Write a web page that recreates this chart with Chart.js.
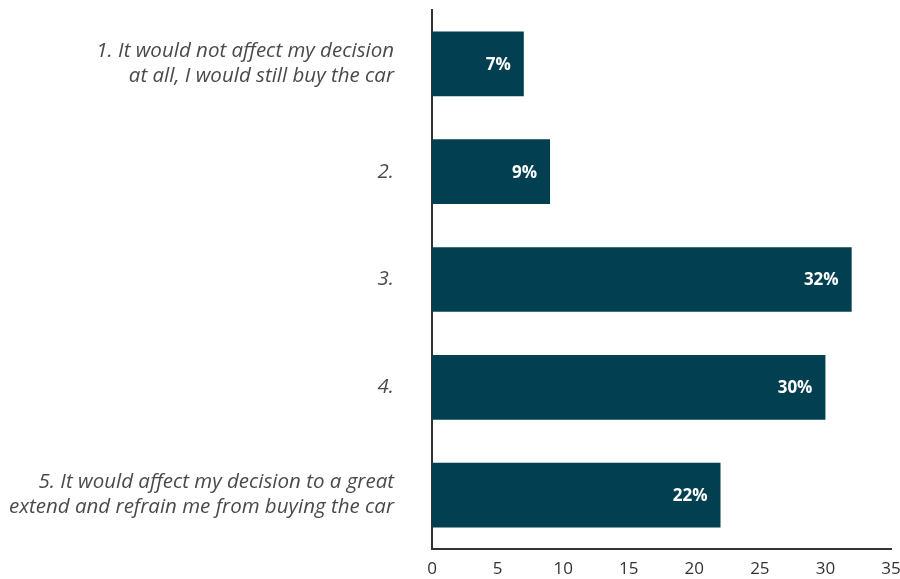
<!DOCTYPE html>
<html>
<head>
<meta charset="utf-8">
<script src="https://cdn.jsdelivr.net/npm/chart.js@4"></script>
<style>
  html, body { margin: 0; padding: 0; background: #fff; overflow: hidden; }
  #wrap { width: 900px; height: 579px; position: relative; }
</style>
</head>
<body>
<div id="wrap"><canvas id="chart"></canvas></div>
<script>
const answers = [
    ['1. It would not affect my decision', 'at all, I would still buy the car'],
    '2.',
    '3.',
    '4.',
    ['5. It would affect my decision to a great', 'extend and refrain me from buying the car']
];
const shares = [7, 9, 32, 30, 22];
const xTicks = [0, 5, 10, 15, 20, 25, 30, 35];

// write the percentage inside the end of each bar
const barLabels = {
    id: 'barLabels',
    afterDatasetsDraw(chart) {
        const ctx = chart.ctx;
        const meta = chart.getDatasetMeta(0);
        ctx.save();
        ctx.fillStyle = '#ffffff';
        ctx.font = 'bold 17px "Open Sans", sans-serif';
        ctx.textAlign = 'right';
        ctx.textBaseline = 'middle';
        meta.data.forEach((bar, i) => {
            ctx.fillText(shares[i] + '%', bar.x - 13, bar.y + 1);
        });
        ctx.restore();
    }
};

new Chart(document.getElementById('chart'), {
    type: 'bar',
    data: {
        labels: answers,
        datasets: [{
            data: shares,
            backgroundColor: '#023f50',
            categoryPercentage: 0.6,
            barPercentage: 1
        }]
    },
    options: {
        indexAxis: 'y',
        responsive: true,
        maintainAspectRatio: false,
        animation: false,
        layout: { padding: { top: 10, right: 0, left: 0, bottom: 0 } },
        plugins: { legend: { display: false }, tooltip: { enabled: false } },
        scales: {
            x: {
                min: 0,
                max: 35,
                afterBuildTicks: s => { s.ticks = xTicks.map(v => ({ value: v })); },
                grid: { display: false },
                border: { display: true, color: '#333', width: 2 },
                ticks: {
                    color: '#333',
                    font: { family: '"Open Sans", sans-serif', size: 17 },
                    padding: 2
                },
                afterFit: s => { s.height = 30; s.paddingLeft = 0; s.paddingRight = 9; }
            },
            y: {
                grid: { display: false },
                border: { display: true, color: '#333', width: 2 },
                ticks: {
                    color: '#4a4a4a',
                    padding: 30,
                    font: { family: '"Open Sans", sans-serif', size: 20.5, style: 'italic', lineHeight: '25px' }
                },
                afterFit: s => { s.width = 432; s.paddingTop = 0; s.paddingBottom = 0; }
            }
        }
    },
    plugins: [barLabels]
});
</script>
</body>
</html>
